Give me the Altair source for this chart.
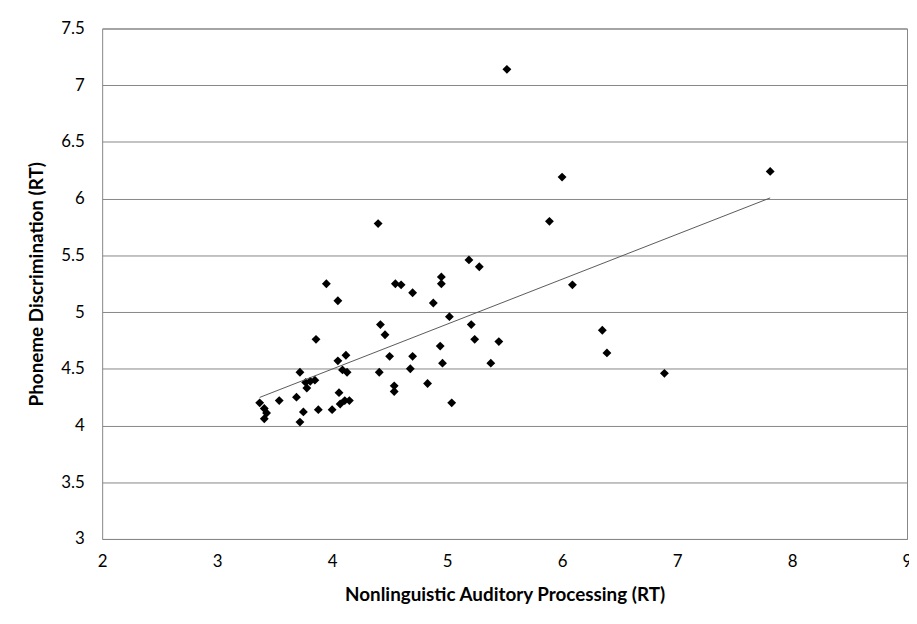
import altair as alt
import pandas as pd

# Nonlinguistic Auditory Processing (RT)
nap_rt = [3.37, 3.41, 3.43, 3.41, 3.54, 3.69, 3.72, 3.75, 3.72, 3.86,
          3.77, 3.81, 3.85, 3.78, 3.88, 4.00, 4.06, 4.07, 4.11, 4.15,
          4.12, 4.05, 4.09, 4.13, 3.95, 4.05, 4.40, 4.42, 4.46, 4.41,
          4.50, 4.54, 4.54, 4.55, 4.60, 4.70, 4.68, 4.70, 4.83, 4.88,
          4.95, 4.95, 4.94, 4.96, 5.02, 5.04, 5.19, 5.28, 5.21, 5.24,
          5.38, 5.45, 5.52, 5.89, 6.00, 6.09, 6.35, 6.39, 6.89, 7.81]
# Phoneme Discrimination (RT)
pd_rt = [4.20, 4.15, 4.11, 4.06, 4.22, 4.25, 4.47, 4.12, 4.03, 4.76,
         4.38, 4.39, 4.40, 4.33, 4.14, 4.14, 4.29, 4.19, 4.22, 4.22,
         4.62, 4.57, 4.49, 4.47, 5.25, 5.10, 5.78, 4.89, 4.80, 4.47,
         4.61, 4.35, 4.30, 5.25, 5.24, 5.17, 4.50, 4.61, 4.37, 5.08,
         5.31, 5.25, 4.70, 4.55, 4.96, 4.20, 5.46, 5.40, 4.89, 4.76,
         4.55, 4.74, 7.14, 5.80, 6.19, 5.24, 4.84, 4.64, 4.46, 6.24]

x_ticks = [2, 3, 4, 5, 6, 7, 8, 9]
y_ticks = [3, 3.5, 4, 4.5, 5, 5.5, 6, 6.5, 7, 7.5]

df = pd.DataFrame({"x": nap_rt, "y": pd_rt})

FONT = "Lato"

x_enc = alt.X("x:Q", scale=alt.Scale(domain=[2, 9], nice=False, zero=False),
              axis=alt.Axis(values=x_ticks, format="~g",
                            title="Nonlinguistic Auditory Processing (RT)",
                            grid=False, ticks=False, domain=False, labelPadding=15,
                            labelFontSize=17, labelFont=FONT, labelColor="#000000",
                            titleFont=FONT, titleFontSize=19, titleFontWeight="bold",
                            titleColor="#000000", titleX=406, titleY=56,
                            titleBaseline="middle", titleAlign="center",
                            labelFlush=False, labelOverlap=False))
y_enc = alt.Y("y:Q", scale=alt.Scale(domain=[3, 7.5], nice=False, zero=False),
              axis=alt.Axis(values=y_ticks, format="~g", title="Phoneme Discrimination (RT)",
                            grid=True, gridColor="#868686", gridWidth=1, gridOpacity=1,
                            ticks=False, domain=False, labelPadding=18,
                            labelFontSize=17, labelFont=FONT, labelColor="#000000",
                            titleFont=FONT, titleFontSize=19, titleFontWeight="bold",
                            titleColor="#000000", titleX=-66, titleY=257.5,
                            titleAngle=-90, titleBaseline="middle", titleAlign="center",
                            labelFlush=False, labelOverlap=False))

points = alt.Chart(df).mark_point(shape="diamond", filled=True, color="#000000",
                                  size=80, opacity=1).encode(x=x_enc, y=y_enc)

trend = alt.Chart(df).transform_regression("x", "y").mark_line(
    color="#595959", strokeWidth=1).encode(x="x:Q", y="y:Q")

chart = alt.layer(points, trend).properties(
    width=812, height=515,
    autosize=alt.AutoSizeParams(type="none"),
    padding={"left": 95, "top": 18, "right": 2, "bottom": 70},
    background="#ffffff",
).configure_view(stroke="#868686", strokeWidth=1)

chart.save("out.html", embed_options={"renderer": "svg", "actions": False})
